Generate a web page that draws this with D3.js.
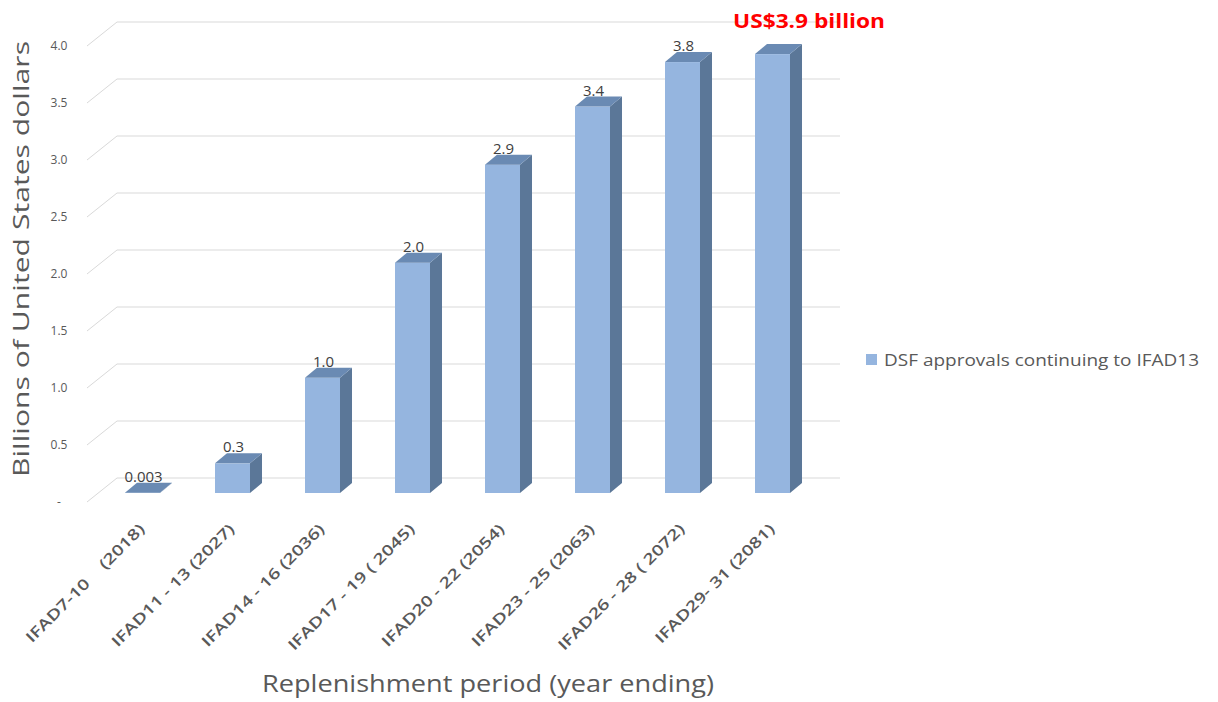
<!DOCTYPE html>
<html>
<head>
<meta charset="utf-8">
<script src="https://cdn.jsdelivr.net/npm/d3@7"></script>
<style>
  html, body { margin: 0; padding: 0; background: #ffffff; }
  svg { display: block; font-family: "Open Sans", Lato, sans-serif; }
  text { white-space: pre; }
</style>
</head>
<body>
<svg id="chart" width="1218" height="702"></svg>
<script>
// ---- data ----
const categories = [
  "IFAD7-10    (2018)",
  "IFAD11 - 13 (2027)",
  "IFAD14 - 16 (2036)",
  "IFAD17 - 19 ( 2045)",
  "IFAD20 - 22 (2054)",
  "IFAD23 - 25 (2063)",
  "IFAD26 - 28 ( 2072)",
  "IFAD29- 31 (2081)"
];
const values = [0.003, 0.26, 1.01, 2.02, 2.88, 3.39, 3.78, 3.85];
const valueLabels = ["0.003", "0.3", "1.0", "2.0", "2.9", "3.4", "3.8", ""];
const tickValues = [0, 0.5, 1.0, 1.5, 2.0, 2.5, 3.0, 3.5, 4.0];
const tickLabels = ["-", "0.5", "1.0", "1.5", "2.0", "2.5", "3.0", "3.5", "4.0"];
const seriesName = "DSF approvals continuing to IFAD13";
const calloutText = "US$3.9 billion";
const yTitle = "Billions of United States dollars";
const xTitle = "Replenishment period (year ending)";

// ---- layout ----
const svg = d3.select("#chart");
const depthX = 12, depthY = -10;
const wallFrontX = 87, wallBackX = 117, wallRightX = 840;

const x = d3.scaleBand().domain(categories).range([97.5, 817.5])
  .paddingInner(0.611).paddingOuter(0.3055);
const yBar = d3.scaleLinear().domain([0, 4]).range([493, 37]);
const yFront = d3.scaleLinear().domain([0, 4]).range([502, 46]);
const yBack = d3.scaleLinear().domain([0, 4]).range([478, 22]);

const gridColor = "#D9D9D9";
const textColor = "#595959";

// gridlines: side wall slant + back wall horizontal
const grid = svg.append("g");
tickValues.forEach(v => {
  grid.append("line")
    .attr("x1", wallFrontX).attr("y1", yFront(v))
    .attr("x2", wallBackX).attr("y2", yBack(v))
    .attr("stroke", gridColor).attr("stroke-width", 1);
  grid.append("line")
    .attr("x1", wallBackX).attr("y1", yBack(v))
    .attr("x2", wallRightX).attr("y2", yBack(v))
    .attr("stroke", gridColor).attr("stroke-width", 1);
});

// y tick labels
svg.append("g").selectAll("text").data(tickValues).join("text")
  .attr("x", 59).attr("y", v => yFront(v) + 4)
  .attr("text-anchor", "middle")
  .attr("font-size", 12).attr("fill", textColor)
  .text((v, i) => tickLabels[i]);

// bars (3D)
const bw = x.bandwidth();
const bars = svg.append("g").selectAll("g").data(categories).join("g");
bars.each(function(c, i) {
  const g = d3.select(this);
  const x0 = x(c), y0 = yBar(0), yt = yBar(values[i]);
  g.append("polygon")
    .attr("points", [[x0 + bw, yt], [x0 + bw + depthX, yt + depthY], [x0 + bw + depthX, y0 + depthY], [x0 + bw, y0]].map(p => p.join(",")).join(" "))
    .attr("fill", "#5B7798");
  g.append("rect")
    .attr("x", x0).attr("y", yt).attr("width", bw).attr("height", Math.max(0, y0 - yt))
    .attr("fill", "#95B5DF");
  g.append("polygon")
    .attr("points", [[x0, yt], [x0 + depthX, yt + depthY], [x0 + bw + depthX, yt + depthY], [x0 + bw, yt]].map(p => p.join(",")).join(" "))
    .attr("fill", "#6A8AB3");
  g.append("text")
    .attr("x", x0 + bw / 2 + 1).attr("y", yt - 11)
    .attr("text-anchor", "middle")
    .attr("font-size", 15).attr("fill", "#404040")
    .text(valueLabels[i]);
});

// x category labels
svg.append("g").selectAll("text").data(categories).join("text")
  .attr("transform", c => `translate(${x(c) + bw / 2 + 3},530) rotate(-45)`)
  .attr("text-anchor", "end")
  .attr("font-size", 15).attr("font-weight", 600).attr("fill", textColor)
  .text(c => c)
  .each(function() {
    const len = this.getComputedTextLength();
    d3.select(this).attr("textLength", len * 1.3).attr("lengthAdjust", "spacingAndGlyphs");
  });

// callout
svg.append("text")
  .attr("x", 809).attr("y", 28)
  .attr("text-anchor", "middle")
  .attr("font-size", 20).attr("font-weight", "bold").attr("fill", "#FF0000")
  .attr("textLength", 152).attr("lengthAdjust", "spacingAndGlyphs")
  .text(calloutText);

// legend
svg.append("rect").attr("x", 866).attr("y", 354).attr("width", 11).attr("height", 11).attr("fill", "#95B5DF");
svg.append("text").attr("x", 884).attr("y", 366)
  .attr("font-size", 17).attr("fill", textColor)
  .attr("textLength", 315).attr("lengthAdjust", "spacingAndGlyphs")
  .text(seriesName);

// axis titles
svg.append("text")
  .attr("transform", "translate(29,259) rotate(-90)")
  .attr("text-anchor", "middle")
  .attr("font-size", 22).attr("fill", textColor)
  .attr("textLength", 436).attr("lengthAdjust", "spacingAndGlyphs")
  .text(yTitle);
svg.append("text")
  .attr("x", 488).attr("y", 692)
  .attr("text-anchor", "middle")
  .attr("font-size", 23).attr("fill", textColor)
  .attr("textLength", 452).attr("lengthAdjust", "spacingAndGlyphs")
  .text(xTitle);
</script>
</body>
</html>
